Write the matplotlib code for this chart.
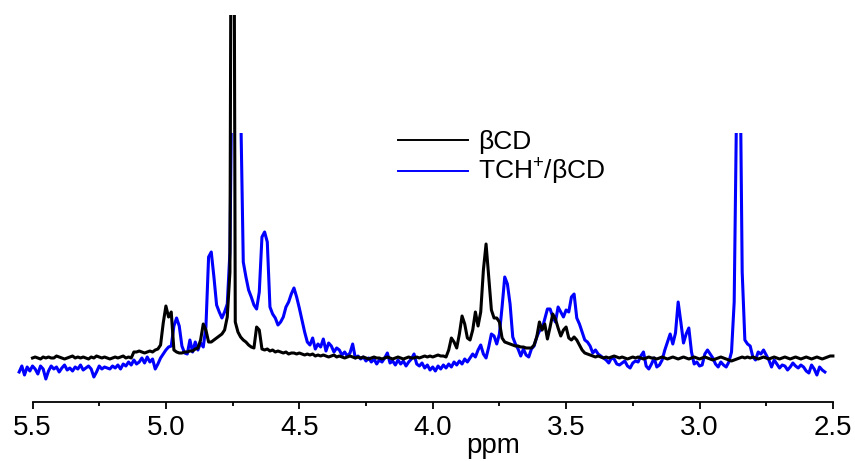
import numpy as np
import matplotlib
matplotlib.use("Agg")
import matplotlib.pyplot as plt
from matplotlib.lines import Line2D
from matplotlib.patches import Rectangle

plt.rcParams['font.family'] = ['Liberation Sans', 'DejaVu Sans']
plt.rcParams['mathtext.default'] = 'regular'

# ---- data (chemical shift in ppm, intensity in arbitrary units) ----
series_names = ["\u03b2CD", "TCH$^{+}$/\u03b2CD"]

# blue spectrum: TCH+/betaCD, from 5.55 ppm downward in 0.01 ppm steps
tch_start = 5.55
tch_step = 0.01
tch_intensity = [
    30, 36, 27, 35, 31, 36, 33, 28, 36, 33,
    23, 31, 36, 33, 35, 30, 34, 37, 32, 34,
    31, 35, 33, 37, 32, 34, 36, 33, 25, 30,
    36, 33, 35, 34, 33, 36, 34, 37, 33, 38,
    36, 40, 37, 42, 38, 40, 44, 39, 45, 40,
    43, 33, 38, 44, 48, 52, 55, 56, 76, 84,
    76, 56, 49, 48, 62, 50, 60, 52, 59, 55,
    75, 145, 150, 125, 97, 90, 84, 90, 98, 150,
    400, 420, 400, 300, 140, 125, 112, 105, 97, 93,
    110, 165, 170, 160, 95, 88, 84, 77, 80, 85,
    95, 100, 108, 114, 105, 94, 82, 70, 60, 57,
    64, 53, 58, 55, 63, 51, 59, 56, 50, 54,
    52, 47, 50, 46, 49, 58, 44, 46, 43, 45,
    41, 44, 40, 43, 38, 42, 40, 44, 49, 39,
    41, 37, 42, 38, 41, 36, 40, 43, 48, 38,
    36, 39, 34, 37, 32, 35, 31, 36, 33, 37,
    34, 38, 35, 40, 37, 41, 38, 43, 40, 44,
    48, 45, 52, 57, 48, 44, 55, 68, 66, 58,
    68, 95, 125, 118, 98, 65, 58, 53, 46, 53,
    47, 45, 53, 56, 65, 71, 73, 83, 93, 93,
    85, 80, 95, 90, 85, 92, 90, 105, 108, 84,
    78, 70, 62, 60, 56, 49, 52, 48, 46, 44,
    42, 39, 44, 43, 38, 37, 39, 41, 36, 34,
    39, 41, 40, 46, 50, 36, 33, 38, 44, 35,
    37, 42, 52, 60, 68, 58, 69, 100, 80, 59,
    68, 74, 50, 38, 40, 36, 37, 48, 52, 48,
    44, 38, 35, 40, 37, 35, 40, 50, 100, 320,
    400, 130, 62, 58, 56, 45, 42, 50, 48, 52,
    47, 42, 35, 42, 38, 34, 37, 36, 32, 35,
    39, 36, 34, 37, 35, 31, 29, 37, 33, 27,
    35, 32, 30,
]

# black spectrum: betaCD, from 5.50 ppm downward in 0.01 ppm steps
bcd_start = 5.50
bcd_step = 0.01
bcd_intensity = [
    44, 45, 44, 43, 45, 44, 45, 44, 44, 46,
    45, 44, 43, 44, 45, 46, 44, 45, 44, 45,
    44, 43, 45, 44, 46, 45, 44, 45, 44, 43,
    44, 45, 44, 45, 46, 44, 45, 44, 50, 50,
    51, 50, 49, 50, 51, 50, 52, 53, 57, 79,
    96, 85, 90, 52, 50, 49, 49, 50, 50, 51,
    51, 53, 54, 62, 78, 72, 60, 60, 62, 64,
    66, 68, 72, 85, 130, 1000, 80, 70, 65, 62,
    60, 57, 55, 54, 75, 72, 53, 52, 53, 51,
    52, 50, 51, 50, 49, 50, 48, 49, 49, 48,
    49, 48, 47, 48, 47, 48, 46, 47, 46, 47,
    46, 45, 46, 47, 45, 46, 45, 44, 45, 46,
    45, 44, 45, 44, 45, 44, 43, 44, 45, 44,
    44, 43, 44, 45, 44, 43, 44, 45, 44, 43,
    44, 45, 44, 44, 45, 44, 45, 46, 45, 46,
    45, 46, 47, 46, 46, 45, 52, 64, 60, 54,
    68, 86, 78, 64, 62, 72, 90, 76, 90, 132,
    158, 125, 92, 84, 84, 80, 64, 60, 59, 58,
    57, 56, 56, 55, 55, 54, 54, 54, 57, 65,
    80, 72, 78, 63, 75, 88, 83, 74, 66, 72,
    75, 64, 62, 65, 62, 57, 52, 49, 48, 47,
    46, 45, 46, 45, 44, 45, 44, 45, 46, 45,
    44, 45, 44, 43, 44, 45, 44, 45, 44, 43,
    44, 45, 44, 44, 43, 44, 45, 44, 43, 44,
    45, 44, 43, 44, 45, 44, 43, 44, 45, 44,
    43, 44, 45, 44, 43, 42, 43, 44, 45, 44,
    43, 42, 41, 42, 43, 44, 45, 44, 45, 44,
    45, 44, 43, 44, 45, 44, 43, 44, 45, 44,
    43, 44, 45, 44, 43, 44, 45, 44, 43, 44,
    45, 44, 43, 44, 45, 44, 43, 44, 45, 46,
    46,
]

# blue layer display ceiling (intensity units)
tch_ceiling = 269

major_ticks = [5.5, 5.0, 4.5, 4.0, 3.5, 3.0, 2.5]
tick_labels = ["5.5", "5.0", "4.5", "4.0", "3.5", "3.0", "2.5"]
minor_ticks = [5.25, 4.75, 4.25, 3.75, 3.25, 2.75]
x_label = "ppm"

tch_ppm = np.round(tch_start - tch_step * np.arange(len(tch_intensity)), 2)
bcd_ppm = np.round(bcd_start - bcd_step * np.arange(len(bcd_intensity)), 2)

# ---- figure ----
W, H = 855, 461
fig = plt.figure(figsize=(W / 100, H / 100), dpi=100)

xl, xr = 5.55, 2.48
px_per_ppm = 266.8
x0_px = 32.5 - 0.05 * px_per_ppm
x1_px = 32.5 + (5.5 - xr) * px_per_ppm
y_axis_px = 402
y_top_px = 15
ax = fig.add_axes([x0_px / W, (H - y_axis_px) / H,
                   (x1_px - x0_px) / W, (y_axis_px - y_top_px) / H])
ax.set_xlim(xl, xr)
ax.set_ylim(0, y_axis_px - y_top_px)

line_b, = ax.plot(bcd_ppm, bcd_intensity, color='black', lw=2.2, zorder=3,
                  solid_joinstyle='round')
line_t, = ax.plot(tch_ppm, tch_intensity, color='#0000ff', lw=2.2, zorder=2,
                  solid_joinstyle='round')
clip_rect = Rectangle((6.0, -100), -4.0, tch_ceiling + 100, transform=ax.transData)
line_t.set_clip_path(clip_rect)

for s in ['top', 'left', 'right']:
    ax.spines[s].set_visible(False)
ax.spines['bottom'].set_bounds(2.5, 5.5)
ax.spines['bottom'].set_linewidth(1.3)
ax.set_yticks([])
ax.set_xticks(major_ticks)
ax.set_xticklabels(tick_labels)
ax.set_xticks(minor_ticks, minor=True)
ax.tick_params(axis='x', which='major', direction='out', length=5, width=1.3,
               labelsize=20, pad=4.5)
ax.tick_params(axis='x', which='minor', direction='out', length=3, width=1.3)
ax.patch.set_visible(False)

fig.text(493 / W, (H - 453) / H, x_label, ha='center', va='baseline', fontsize=20)

handles = [Line2D([], [], color='black', lw=1.4),
           Line2D([], [], color='#0000ff', lw=1.4)]
ax.legend(handles, series_names, loc='upper left',
          bbox_to_anchor=(398 / W, (H - 130) / H), bbox_transform=fig.transFigure,
          frameon=False, fontsize=19, handlelength=2.65, handletextpad=0.38,
          borderpad=0, borderaxespad=0, labelspacing=0.12)

fig.savefig("out.png", dpi=100)
